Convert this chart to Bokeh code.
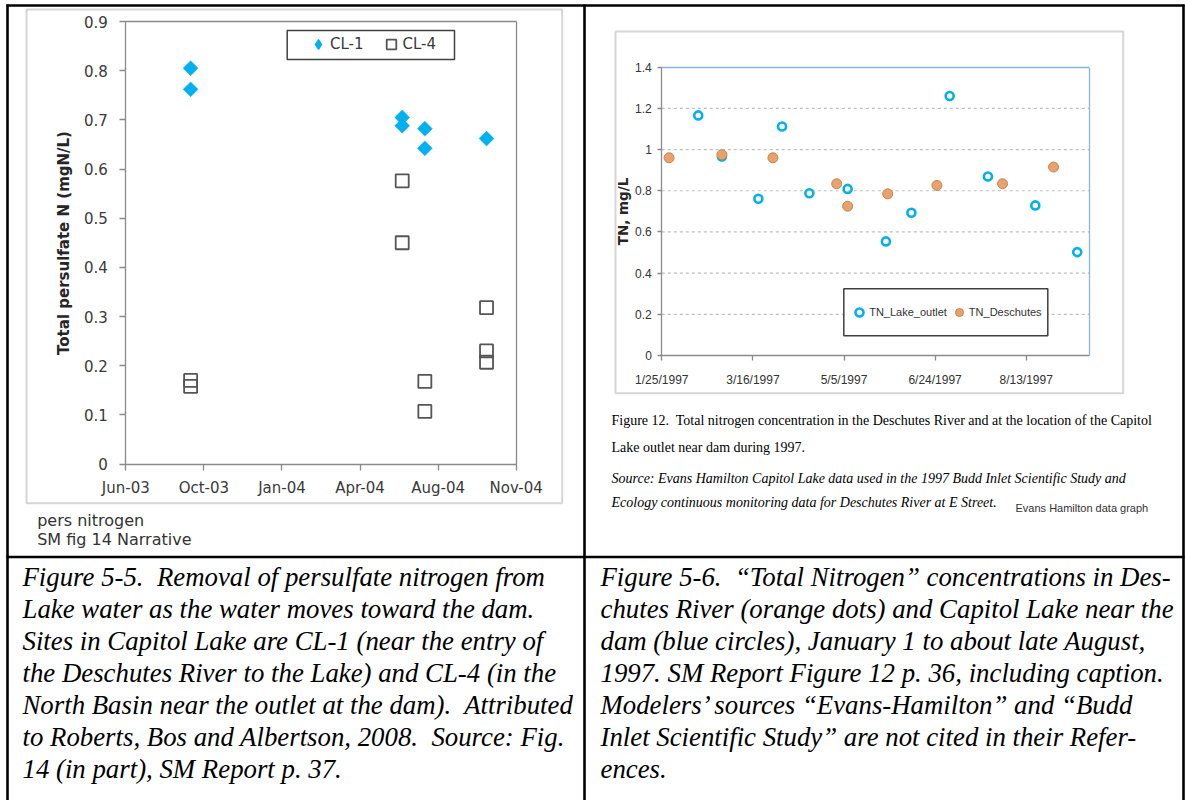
import math
import pandas as pd
from bokeh.plotting import figure
from bokeh.models import (Range1d, LinearAxis, FixedTicker, CustomJSTickFormatter,
                          Legend, LegendItem, ColumnDataSource)
from bokeh.core.properties import value
from bokeh.embed import file_html
from bokeh.resources import INLINE

# ---------------- Figure 5-5 (left): total persulfate N, mgN/L ----------------
cl1_dates = ["2003-09-20", "2003-09-20", "2004-06-17", "2004-06-17",
             "2004-07-16", "2004-07-16", "2004-10-03"]
cl1_values = [0.805, 0.762, 0.705, 0.688, 0.682, 0.642, 0.662]
cl4_dates = ["2003-09-20", "2003-09-20", "2004-06-17", "2004-06-17",
             "2004-07-16", "2004-07-16", "2004-10-03", "2004-10-03", "2004-10-03"]
cl4_values = [0.170, 0.158, 0.576, 0.450, 0.168, 0.107, 0.318, 0.230, 0.207]
left_x_tick_dates = ["2003-06-29", "2003-10-07", "2004-01-15", "2004-04-24",
                     "2004-08-02", "2004-11-10"]
left_x_tick_labels = ["Jun-03", "Oct-03", "Jan-04", "Apr-04", "Aug-04", "Nov-04"]
left_y_ticks = [0.0, 0.1, 0.2, 0.3, 0.4, 0.5, 0.6, 0.7, 0.8, 0.9]
left_y_tick_labels = ["0", "0.1", "0.2", "0.3", "0.4", "0.5", "0.6", "0.7", "0.8", "0.9"]

# ---------------- Figure 5-6 (right): TN, mg/L during 1997 ----------------
lake_dates = ["1997-02-14", "1997-02-27", "1997-03-19", "1997-04-01", "1997-04-16",
              "1997-05-07", "1997-05-28", "1997-06-11", "1997-07-02", "1997-07-23",
              "1997-08-18", "1997-09-10"]
lake_values = [1.166, 0.966, 0.761, 1.112, 0.788, 0.809, 0.554, 0.693, 1.260,
               0.869, 0.729, 0.502]
deschutes_dates = ["1997-01-29", "1997-02-27", "1997-03-27", "1997-05-01", "1997-05-07",
                   "1997-05-29", "1997-06-25", "1997-07-31", "1997-08-28"]
deschutes_values = [0.960, 0.975, 0.960, 0.834, 0.725, 0.785, 0.826, 0.834, 0.915]
right_x_tick_dates = ["1997-01-25", "1997-03-16", "1997-05-05", "1997-06-24", "1997-08-13"]
right_x_tick_labels = ["1/25/1997", "3/16/1997", "5/5/1997", "6/24/1997", "8/13/1997"]
right_x_end_date = "1997-09-17"
right_y_ticks = [0.0, 0.2, 0.4, 0.6, 0.8, 1.0, 1.2, 1.4]
right_y_tick_labels = ["0", "0.2", "0.4", "0.6", "0.8", "1", "1.2", "1.4"]

# ---------------- texts ----------------
NB = "\u00a0 "  # double space after a full stop
left_notes = ["pers nitrogen", "SM fig 14 Narrative"]
fig12_caption = ["Figure 12." + NB + "Total nitrogen concentration in the Deschutes River and at the location of the Capitol",
                 "Lake outlet near dam during 1997."]
fig12_source = ["Source: Evans Hamilton Capitol Lake data used in the 1997 Budd Inlet Scientific Study and",
                "Ecology continuous monitoring data for Deschutes River at E Street."]
fig12_note = "Evans Hamilton data graph"
caption_left = ["Figure 5-5." + NB + "Removal of persulfate nitrogen from",
                "Lake water as the water moves toward the dam.",
                "Sites in Capitol Lake are CL-1 (near the entry of",
                "the Deschutes River to the Lake) and CL-4 (in the",
                "North Basin near the outlet at the dam)." + NB + "Attributed",
                "to Roberts, Bos and Albertson, 2008." + NB + "Source: Fig.",
                "14 (in part), SM Report p. 37."]
caption_right = ["Figure 5-6." + NB + "\u201cTotal Nitrogen\u201d concentrations in Des-",
                 "chutes River (orange dots) and Capitol Lake near the",
                 "dam (blue circles), January 1 to about late August,",
                 "1997. SM Report Figure 12 p. 36, including caption.",
                 "Modelers\u2019 sources \u201cEvans-Hamilton\u201d and \u201cBudd",
                 "Inlet Scientific Study\u201d are not cited in their Refer-",
                 "ences."]


def ms(dates):
    return [pd.Timestamp(d).value / 1e6 for d in dates]


W, H = 1185, 800
SANS2 = "Liberation Sans"

p = figure(width=W, height=H, x_range=Range1d(0, W), y_range=Range1d(H, 0),
           x_axis_type=None, y_axis_type=None, output_backend="svg",
           toolbar_location=None, min_border=0, outline_line_color=None)
p.background_fill_color = "white"
p.border_fill_color = "white"


def lin_range(v0, px0, v1, px1, px_start, px_end):
    k = (v1 - v0) / (px1 - px0)
    return Range1d(start=v0 + (px_start - px0) * k, end=v0 + (px_end - px0) * k)


lx_ticks = ms(left_x_tick_dates)
rx_ticks = ms(right_x_tick_dates)
rx_end = ms([right_x_end_date])[0]

# plot-area placement on the page (pixels)
p.extra_x_ranges["lx"] = lin_range(lx_ticks[0], 125.3, lx_ticks[-1], 515.7, 0, W)
p.extra_y_ranges["ly"] = lin_range(0.0, 463.5, 0.9, 21.0, H, 0)
p.extra_x_ranges["rx"] = lin_range(rx_ticks[0], 661.3, rx_ticks[-1], 1025.7, 0, W)
p.extra_y_ranges["ry"] = lin_range(0.0, 355.0, 1.4, 66.7, H, 0)

# ---------------- page decorations: table and chart frames ----------------
p.segment(x0=[6, 7, 584, 1183, 6], y0=[5, 4, 4, 4, 556.5],
          x1=[1184, 7, 584, 1183, 1184], y1=[5, 800, 800, 800, 556.5],
          line_color="black", line_width=2.6)
p.quad(left=[26, 615], right=[561.7, 1122.7], top=[9, 31], bottom=[502.7, 392.7],
       fill_color=None, line_color="#D6D6D6", line_width=2)


def fmt(ticks, labels):
    return CustomJSTickFormatter(args=dict(tv=list(ticks), lab=list(labels)),
                                 code="const i = tv.indexOf(tick); return i < 0 ? '' : lab[i];")


def style_axis(ax, font, size, color, line_color, tick_out, standoff):
    ax.axis_line_color = line_color
    ax.axis_line_width = 1.3
    ax.major_tick_line_color = line_color
    ax.major_tick_line_width = 1.3
    ax.major_tick_out = tick_out
    ax.major_tick_in = 0
    ax.minor_tick_out = 0
    ax.minor_tick_in = 0
    ax.major_label_text_font = font
    ax.major_label_text_font_size = size
    ax.major_label_text_color = color
    ax.major_label_standoff = standoff


def border_axis(xr, yr, loc, bounds, color, side):
    ax = LinearAxis(x_range_name=xr, y_range_name=yr, fixed_location=loc, bounds=bounds,
                    ticker=FixedTicker(ticks=[], minor_ticks=[]))
    ax.axis_line_color = color
    ax.axis_line_width = 1.3
    ax.major_tick_out = 0
    ax.major_tick_in = 0
    ax.minor_tick_out = 0
    ax.minor_tick_in = 0
    p.add_layout(ax, side)


# ---------------- left chart ----------------
GRAY = "#8A8A8A"
ax = LinearAxis(x_range_name="lx", y_range_name="ly", fixed_location=lx_ticks[0],
                bounds=(0.0, 0.9), ticker=FixedTicker(ticks=left_y_ticks, minor_ticks=[]),
                formatter=fmt(left_y_ticks, left_y_tick_labels),
                axis_label="Total persulfate N (mgN/L)")
style_axis(ax, "DejaVu Sans", "15px", "#3A3A3A", GRAY, 6, 12)
ax.axis_label_text_font = "DejaVu Sans"
ax.axis_label_text_font_style = "bold"
ax.axis_label_text_font_size = "15px"
ax.axis_label_text_color = "#262626"
ax.axis_label_standoff = 8
p.add_layout(ax, "left")

ax = LinearAxis(x_range_name="lx", y_range_name="ly", fixed_location=0.0,
                bounds=(lx_ticks[0], lx_ticks[-1]),
                ticker=FixedTicker(ticks=lx_ticks, minor_ticks=[]),
                formatter=fmt(lx_ticks, left_x_tick_labels))
style_axis(ax, "DejaVu Sans", "15px", "#3A3A3A", GRAY, 6, 9)
p.add_layout(ax, "below")
border_axis("lx", "ly", 0.9, (lx_ticks[0], lx_ticks[-1]), GRAY, "above")
border_axis("lx", "ly", lx_ticks[-1], (0.0, 0.9), GRAY, "right")

r_cl4 = p.scatter(x=ms(cl4_dates), y=cl4_values, marker="square", size=13,
                  fill_color="white", fill_alpha=0, line_color="#555555", line_width=1.8,
                  x_range_name="lx", y_range_name="ly")
r_cl1 = p.scatter(x=ms(cl1_dates), y=cl1_values, marker="square", angle=math.pi / 4,
                  size=10.5, fill_color="#00B0F0", line_color="#00B0F0", line_width=0.5,
                  x_range_name="lx", y_range_name="ly")
# legend key for CL-1 (the legend draws markers unrotated, so use the diamond marker)
r_cl1_key = p.scatter(x=ms(cl1_dates), y=cl1_values, marker="diamond", size=10,
                      fill_color="#00B0F0", line_color="#00B0F0", line_width=1.2,
                      visible=False, x_range_name="lx", y_range_name="ly")

# ---------------- right chart ----------------
BLUE_BORDER = "#8DB3E2"
p.segment(x0=[rx_ticks[0]] * 6, x1=[rx_end] * 6, y0=right_y_ticks[1:-1], y1=right_y_ticks[1:-1],
          line_color="#C0C0C0", line_width=1.2, line_dash="3 3",
          x_range_name="rx", y_range_name="ry")

ax = LinearAxis(x_range_name="rx", y_range_name="ry", fixed_location=rx_ticks[0],
                bounds=(0.0, 1.4), ticker=FixedTicker(ticks=right_y_ticks, minor_ticks=[]),
                formatter=fmt(right_y_ticks, right_y_tick_labels),
                axis_label="TN, mg/L")
style_axis(ax, SANS2, "12px", "#333333", GRAY, 4, 6)
ax.axis_label_text_font = "DejaVu Sans"
ax.axis_label_text_font_style = "bold"
ax.axis_label_text_font_size = "13.5px"
ax.axis_label_text_color = "#262626"
ax.axis_label_standoff = 1
p.add_layout(ax, "left")

ax = LinearAxis(x_range_name="rx", y_range_name="ry", fixed_location=0.0,
                bounds=(rx_ticks[0], rx_end),
                ticker=FixedTicker(ticks=rx_ticks, minor_ticks=[]),
                formatter=fmt(rx_ticks, right_x_tick_labels))
style_axis(ax, SANS2, "12px", "#333333", GRAY, 5, 12)
p.add_layout(ax, "below")
border_axis("rx", "ry", 1.4, (rx_ticks[0], rx_end), BLUE_BORDER, "above")
border_axis("rx", "ry", rx_end, (0.0, 1.4), BLUE_BORDER, "right")

r_lake = p.scatter(x=ms(lake_dates), y=lake_values, marker="circle", size=8,
                   fill_color=None, line_color="#00B0F0", line_width=2.6,
                   x_range_name="rx", y_range_name="ry")
r_desc = p.scatter(x=ms(deschutes_dates), y=deschutes_values, marker="circle", size=10,
                   fill_color="#E8A26B", line_color="#C8844F", line_width=1,
                   x_range_name="rx", y_range_name="ry")

# ---------------- legend frames (page pixels) and legends ----------------
p.quad(left=[286.7, 843.3], right=[454.0, 1047.3], top=[30.0, 288.3], bottom=[59.0, 335.3],
       fill_color="white", line_color="#404040", line_width=1.5)

common = dict(orientation="horizontal", padding=0, label_standoff=0, margin=0,
              border_line_color=None, background_fill_alpha=0.0, inactive_fill_alpha=0.0)
leg1 = Legend(items=[LegendItem(label="CL-1", renderers=[r_cl1_key]),
                     LegendItem(label="CL-4", renderers=[r_cl4])],
              location=(306.0, H - 56.3), spacing=15,
              glyph_width=24, glyph_height=24, label_height=24,
              label_text_font="DejaVu Sans", label_text_font_size="15px",
              label_text_color="#3A3A3A", **common)
p.add_layout(leg1, "center")

leg2 = Legend(items=[LegendItem(label="TN_Lake_outlet", renderers=[r_lake]),
                     LegendItem(label="TN_Deschutes", renderers=[r_desc])],
              location=(849.2, H - 321.7), spacing=2,
              glyph_width=20, glyph_height=20, label_height=20,
              label_text_font=SANS2, label_text_font_size="11px",
              label_text_color="#333333", **common)
p.add_layout(leg2, "center")


# ---------------- texts on the page ----------------
def add_text(xs, ys, texts, font, size, style="normal", color="black"):
    src = ColumnDataSource(dict(x=xs, y=ys, text=texts))
    p.text("x", "y", text="text", source=src, text_font=value(font), text_font_size=size,
           text_font_style=style, text_color=color, text_align="left", text_baseline="middle")


add_text([36.7, 36.7], [520, 539.3], left_notes, "DejaVu Sans", "16px", color="#333333")
add_text([611, 611], [420, 446.7], fig12_caption, "Liberation Serif", "14px")
add_text([611, 611], [478.3, 501.7], fig12_source, "Liberation Serif", "14px", style="italic")
add_text([1015], [507.7], [fig12_note], SANS2, "11px", color="#333333")

ys = [576 + 32 * i for i in range(7)]
add_text([22] * 7, ys, caption_left, "Liberation Serif", "26.8px", style="italic")
add_text([600] * 7, ys, caption_right, "Liberation Serif", "26.8px", style="italic")

open("out.html", "w").write(file_html(p, INLINE))
